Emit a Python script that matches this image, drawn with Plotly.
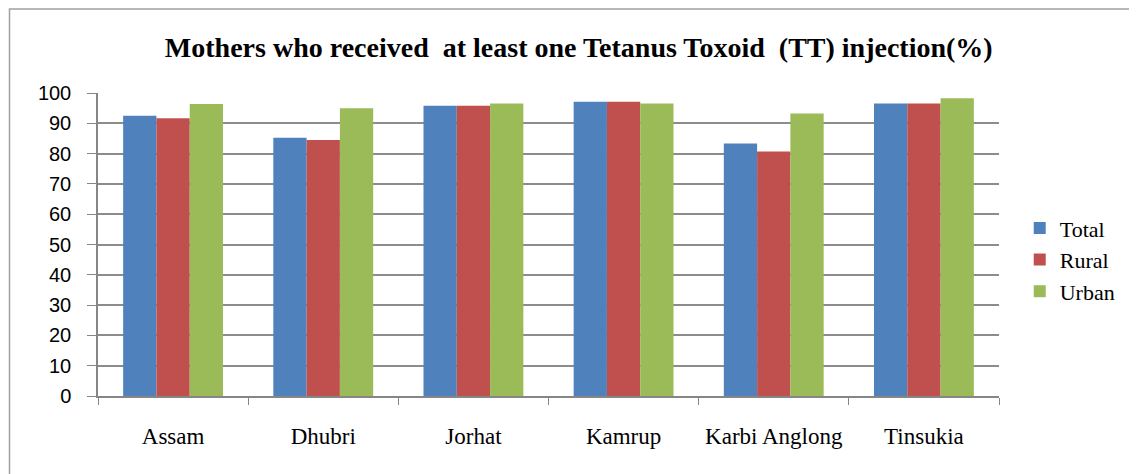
import plotly.graph_objects as go

categories = ["Assam", "Dhubri", "Jorhat", "Kamrup", "Karbi Anglong", "Tinsukia"]
total = [92.5, 85.2, 95.8, 97.1, 83.3, 96.5]
rural = [91.7, 84.5, 95.8, 97.1, 80.7, 96.5]
urban = [96.4, 95.0, 96.5, 96.5, 93.2, 98.3]
series_names = ["Total", "Rural", "Urban"]
colors = ["#4F81BD", "#C0504D", "#9BBB59"]
y_ticks = list(range(0, 101, 10))

fig = go.Figure()
for name, vals, col in zip(series_names, [total, rural, urban], colors):
    fig.add_trace(go.Bar(x=categories, y=vals, name=name, marker=dict(color=col, line=dict(width=0))))

serif = "Liberation Serif, Times New Roman, serif"
# page has an 8px body offset; margins compensate so plot area sits at x 98..999, y 93..396
fig.update_layout(
    width=1137, height=474,
    margin=dict(l=90, r=146, t=85, b=86),
    paper_bgcolor="white", plot_bgcolor="white",
    barmode="group", bargap=0.335, bargroupgap=0,
    title=dict(text="<b>Mothers who received  at least one Tetanus Toxoid  (TT) injection(%)</b>",
               x=0.502, xref="container", xanchor="center", y=0.918, yref="container", yanchor="middle",
               font=dict(family=serif, size=28, color="black")),
    legend=dict(x=1.023, y=0.45, xanchor="left", yanchor="middle",
                font=dict(family=serif, size=22, color="black"), tracegroupgap=6),
    xaxis=dict(showline=True, linecolor="#868686", linewidth=1.5, ticks="outside", tickson="boundaries",
               ticklen=7, tickcolor="#868686", tickwidth=1, ticklabelstandoff=19,
               tickfont=dict(family=serif, size=23, color="black"), showgrid=False),
    yaxis=dict(range=[0, 100], tickvals=y_ticks, showline=True, linecolor="#868686", linewidth=1.5,
               ticks="outside", ticklen=9, tickcolor="#868686", ticklabelstandoff=12,
               showgrid=True, gridcolor="#8C8C8C", gridwidth=1.5, zeroline=False,
               tickfont=dict(family="Liberation Sans, Arial, sans-serif", size=20, color="black")),
    shapes=[dict(type="rect", xref="paper", yref="paper",
                 x0=(9.5 - 98) / 901, x1=(1145 - 98) / 901, y0=(396 - 480) / 303, y1=(396 - 9) / 303,
                 line=dict(color="#A0A0A0", width=1.5), fillcolor="rgba(0,0,0,0)", layer="below")],
)

fig.write_html("out.html")
